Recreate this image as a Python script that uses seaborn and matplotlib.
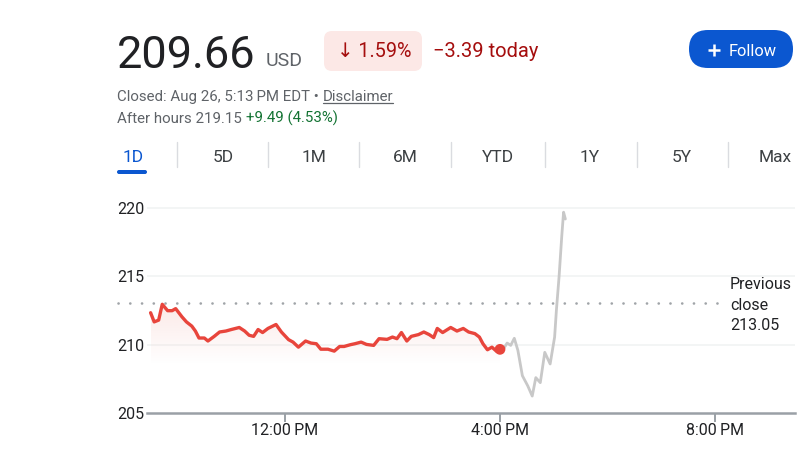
import numpy as np
import pandas as pd
import seaborn as sns
import matplotlib
matplotlib.use("Agg")
import matplotlib.pyplot as plt
from matplotlib.patches import FancyBboxPatch
from matplotlib.colors import to_rgb

# ---------------- data ----------------
session_times = ["09:30", "09:34", "09:39", "09:43", "09:49", "09:54", "09:58", "10:05", "10:10", "10:16",
                 "10:20", "10:24", "10:30", "10:34", "10:41", "10:47", "10:54", "11:00", "11:09", "11:15",
                 "11:20", "11:25", "11:30", "11:35", "11:41", "11:50", "11:56", "12:04", "12:09", "12:15",
                 "12:23", "12:29", "12:35", "12:40", "12:48", "12:55", "13:01", "13:06", "13:13", "13:18",
                 "13:25", "13:31", "13:39", "13:45", "13:54", "14:00", "14:05", "14:10", "14:16", "14:21",
                 "14:29", "14:35", "14:41", "14:46", "14:50", "14:56", "15:05", "15:12", "15:19", "15:25",
                 "15:32", "15:37", "15:41", "15:46", "15:51", "15:56", "16:00"]
session_prices = [212.34, 211.67, 211.80, 212.96, 212.49, 212.49, 212.64, 212.04, 211.67, 211.36,
                  211.00, 210.49, 210.49, 210.27, 210.61, 210.93, 211.00, 211.11, 211.26, 211.00,
                  210.69, 210.61, 211.11, 210.89, 211.19, 211.48, 210.93, 210.37, 210.19, 209.82,
                  210.27, 210.12, 210.07, 209.67, 209.67, 209.53, 209.87, 209.87, 210.00, 210.07,
                  210.19, 210.02, 209.95, 210.44, 210.39, 210.56, 210.44, 210.89, 210.27, 210.61,
                  210.74, 210.93, 210.74, 210.52, 211.19, 210.89, 211.26, 211.00, 211.19, 210.93,
                  210.81, 210.56, 210.07, 209.63, 209.82, 209.53, 209.66]

after_times = ["16:00", "16:04", "16:08", "16:12", "16:16", "16:20", "16:25", "16:31", "16:36", "16:40",
               "16:45", "16:50", "16:56", "17:01", "17:03", "17:06", "17:09", "17:11", "17:13"]
after_prices = [209.66, 209.70, 210.12, 209.95, 210.47, 209.58, 207.73, 206.99, 206.24, 207.59,
                207.22, 209.44, 208.59, 210.56, 212.54, 215.01, 217.97, 219.70, 219.20]

previous_close = 213.05
y_ticks = [205, 210, 215, 220]
x_tick_hours = [12, 16, 20]
x_tick_labels = ["12:00\u202fPM", "4:00\u202fPM", "8:00\u202fPM"]
tab_labels = ["1D", "5D", "1M", "6M", "YTD", "1Y", "5Y", "Max"]

price_text = "209.66"
currency_text = "USD"
pct_text = "\u2193 1.59%"
change_text = "\u22123.39 today"
closed_text = "Closed: Aug 26, 5:13\u202fPM EDT \u2022 "
disclaimer_text = "Disclaimer"
after_label_text = "After hours 219.15 "
after_change_text = "+9.49 (4.53%)"
follow_text = "Follow"
prev_close_lines = ["Previous", "close", "213.05"]


def to_hours(ts):
    return list(pd.to_timedelta([t + ":00" for t in ts]) / pd.Timedelta(hours=1))


session = pd.DataFrame({"hour": to_hours(session_times), "price": session_prices})
after = pd.DataFrame({"hour": to_hours(after_times), "price": after_prices})

# ---------------- style ----------------
sns.set_theme(style="white")
plt.rcParams["font.family"] = ["Roboto", "DejaVu Sans"]

W, H = 810, 455
fig = plt.figure(figsize=(W / 100, H / 100), dpi=100)
fig.patch.set_facecolor("white")

# overlay axes in pixel coordinates for the header
hx = fig.add_axes([0, 0, 1, 1], zorder=0)
hx.set_xlim(0, W)
hx.set_ylim(H, 0)
hx.axis("off")

DARK = "#202124"
GRAY = "#5f6368"
RED = "#a50e0e"
BLUE = "#0b57d0"

# ---------------- chart axes ----------------
ax_left, ax_right, ax_bottom, ax_top = 147, 795, 413, 204
ax = fig.add_axes([ax_left / W, 1 - ax_bottom / H, (ax_right - ax_left) / W, (ax_bottom - ax_top) / H], zorder=2)
ax.set_facecolor("none")
px_per_hour = 53.75
x0 = 9.5 - (150.6 - ax_left) / px_per_hour
x1 = x0 + (ax_right - ax_left) / px_per_hour
ax.set_xlim(x0, x1)
ax.set_ylim(205, 220.3)

for yv in y_ticks[1:]:
    ax.axhline(yv, color="#f1f3f4", lw=1.2, zorder=0)

# gradient fill under the session line
fill_floor = 208.6
poly = ax.fill_between(session["hour"], session["price"], fill_floor, facecolor="none", edgecolor="none")
grad = np.zeros((100, 2, 4))
grad[..., :3] = to_rgb("#f6c9c4")
grad[..., 3] = np.linspace(0.0, 0.4, 100)[:, None]
im = ax.imshow(grad, extent=[session["hour"].min(), session["hour"].max(), fill_floor, session["price"].max()],
               origin="lower", aspect="auto", zorder=1)
im.set_clip_path(poly.get_paths()[0], transform=ax.transData)

sns.lineplot(data=after, x="hour", y="price", color="#c8c8c8", lw=2.0, ax=ax, zorder=3)
sns.lineplot(data=session, x="hour", y="price", color="#e8453c", lw=2.4, ax=ax, zorder=4)
sns.scatterplot(x=[session["hour"].iloc[-1]], y=[session["price"].iloc[-1]], color="#e8453c",
                s=60, edgecolor="none", ax=ax, zorder=5)

# previous close dotted line
dot_start = x0 - 29 / px_per_hour
dot_end = x0 + (725 - ax_left) / px_per_hour
ax.plot([dot_start, dot_end], [previous_close, previous_close], color="#a0a4a8", lw=1.9,
        dashes=(0.05, 4.4), clip_on=False, zorder=2, dash_capstyle="round")

ax.set_xlim(x0, x1)
ax.set_ylim(205, 220.3)
ax.set_xlabel("")
ax.set_ylabel("")
for side in ["top", "right", "left"]:
    ax.spines[side].set_visible(False)
ax.spines["bottom"].set_color("#9aa0a6")
ax.spines["bottom"].set_linewidth(1.8)
ax.set_yticks(y_ticks)
ax.set_yticklabels([str(v) for v in y_ticks])
ax.set_xticks(x_tick_hours)
ax.set_xticklabels(x_tick_labels)
ax.tick_params(axis="y", length=0, pad=2, labelsize=11.5, labelcolor=DARK)
ax.tick_params(axis="x", length=6.5, width=1.4, color="#9aa0a6", pad=0.5, labelsize=11.5, labelcolor=DARK,
               direction="out", bottom=True)
ax.grid(False)

# previous close annotation
for i, line in enumerate(prev_close_lines):
    hx.text(730, 289 + i * 20.5, line, fontsize=11.5, color=DARK, va="baseline", ha="left")

# ---------------- header ----------------
hx.text(117, 68, price_text, fontsize=32.5, color=DARK, va="baseline", ha="left")
hx.text(266, 66, currency_text, fontsize=14, color=GRAY, va="baseline", ha="left")

hx.add_patch(FancyBboxPatch((324, 31), 98, 40, boxstyle="round,pad=0,rounding_size=8",
                            fc="#fce8e6", ec="none"))
hx.text(337, 57, pct_text, fontsize=14.2, color=RED, va="baseline", ha="left")
hx.text(433, 57, change_text, fontsize=14.5, color=RED, va="baseline", ha="left")

hx.add_patch(FancyBboxPatch((689, 30), 104, 38, boxstyle="round,pad=0,rounding_size=19",
                            fc=BLUE, ec="none"))
hx.plot([708, 720], [49.5, 49.5], color="white", lw=1.8, solid_capstyle="butt")
hx.plot([714, 714], [43.5, 55.5], color="white", lw=1.8, solid_capstyle="butt")
hx.text(729, 55.5, follow_text, fontsize=11.8, color="white", va="baseline", ha="left")

renderer = fig.canvas.get_renderer()
t1 = hx.text(117, 101, closed_text, fontsize=10.8, color=GRAY, va="baseline", ha="left")
bb = t1.get_window_extent(renderer)
t2 = hx.text(bb.x1, 101, disclaimer_text, fontsize=10.8, color=GRAY, va="baseline", ha="left")
bb2 = t2.get_window_extent(renderer)
hx.plot([bb2.x0, bb2.x1], [103, 103], color=GRAY, lw=0.9)

t3 = hx.text(117, 123, after_label_text, fontsize=10.8, color=GRAY, va="baseline", ha="left")
bb3 = t3.get_window_extent(renderer)
hx.text(bb3.x1, 123, after_change_text, fontsize=10.8, color="#137333", va="baseline", ha="left")

tab_centers = [133, 223, 314, 405, 498, 590, 682, 775]
for i, (lab, cx) in enumerate(zip(tab_labels, tab_centers)):
    hx.text(cx, 162, lab, fontsize=12.5, color=(BLUE if i == 0 else "#3c4043"), va="baseline", ha="center")
for sx in [177, 268, 359, 451, 545, 637, 728]:
    hx.plot([sx, sx], [142, 167], color="#dadce0", lw=1)
hx.add_patch(FancyBboxPatch((117, 170), 30, 4, boxstyle="round,pad=0,rounding_size=2", fc=BLUE, ec="none"))

fig.savefig("out.png", dpi=100, facecolor="white")
